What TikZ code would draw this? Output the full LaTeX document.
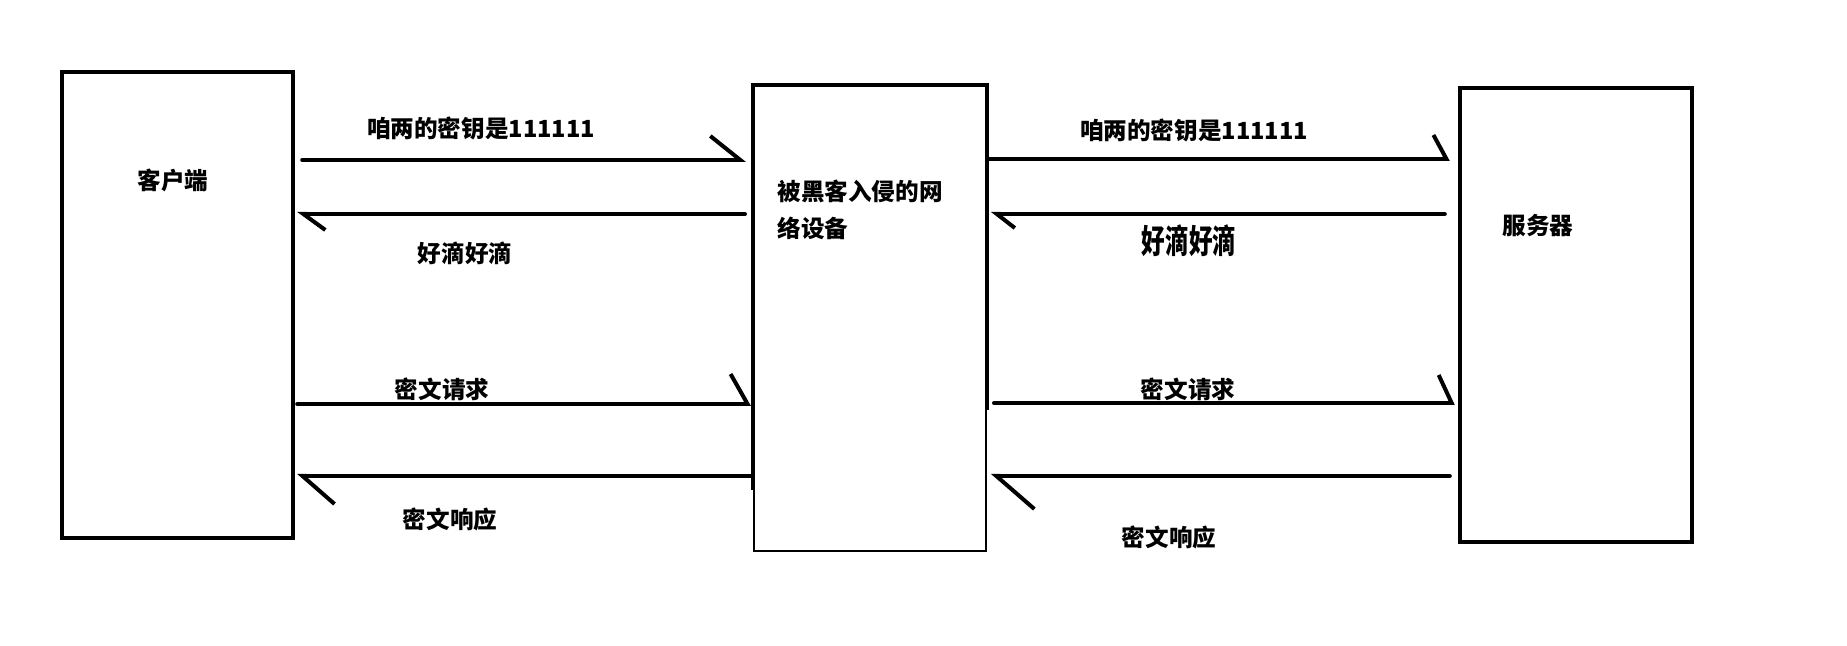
\documentclass[tikz,border=0pt]{standalone}
\usepackage{fontspec}
\usepackage{tikz}
\usetikzlibrary{arrows.meta}
\newfontfamily\cjk{Noto Sans CJK SC}

\begin{document}
\begin{tikzpicture}[
      x=0.5pt, y=-0.5pt,
      box/.style={draw, line width=#1, minimum width=116pt, minimum height=233pt, inner sep=0pt},
      txt/.style={inner sep=0pt, font=\cjk\bfseries\fontsize{11.8pt}{18.3pt}\selectfont},
      msg/.style={line width=2pt, line cap=round},
      barb/.style 2 args={-{Straight Barb[harpoon, length=#1, width=#2]}}
    ]
      \useasboundingbox (0,0) rectangle (1847,646);

      \node[box=2.2pt, minimum width=115.5pt] (client) at (177.5,305) {};
      \node[box=1pt, minimum height=232.5pt] (hacker) at (870,318.5) {};
      \node[box=2.2pt, minimum height=227pt] (server) at (1576,315) {};
      \draw[line width=2.2pt] (hacker.west |- 0,490) |- (hacker.north) -| (hacker.east |- 0,410);

      \node[txt] (clientlbl) at (173,180) {客户端};
      \node[txt, align=left, anchor=north west] (hackerlbl) at (777,180) {被黑客入侵的网\\络设备};
      \node[txt] (serverlbl) at (1538,226) {服务器};

      \node[txt] (keyL) at (481,128) {咱两的密钥是111111};
      \node[txt] (okL) at (465,253) {好滴好滴};
      \node[txt] (reqL) at (442,389) {密文请求};
      \node[txt] (respL) at (450,519) {密文响应};
      \node[txt] (keyR) at (1194,130) {咱两的密钥是111111};
      \node[txt] (okR) at (1189,241) {\scalebox{1}[1.4]{好滴好滴}};
      \node[txt] (reqR) at (1188,389) {密文请求};
      \node[txt] (respR) at (1169,537) {密文响应};

      \draw[msg, barb={15pt}{24pt}, shorten <=3.5pt, shorten >=3.5pt] (client.east |- 0,160) -- (hacker.west |- 0,160);
      \draw[msg, barb={11pt}{16pt}, shorten <=4pt, shorten >=1pt] (hacker.west |- 0,214) -- (client.east |- 0,214);
      \draw[msg, barb={6.5pt}{24pt}, shorten <=0.5pt, shorten >=4pt] (hacker.east |- 0,159) -- (server.west |- 0,159);
      \draw[msg, barb={9pt}{14pt}, shorten <=6.5pt, shorten >=2pt] (server.west |- 0,214) -- (hacker.east |- 0,214);

      \draw[msg, barb={8.5pt}{30pt}, shorten <=1pt, shorten >=1pt] (client.east |- 0,404) -- (hacker.west |- 0,404);
      \draw[msg, barb={16pt}{28pt}, shorten <=1pt, shorten >=1pt] (hacker.west |- 0,476) -- (client.east |- 0,476);
      \draw[msg, barb={6.5pt}{28pt}, shorten <=3.5pt, shorten >=1.5pt] (hacker.east |- 0,403) -- (server.west |- 0,403);
      \draw[msg, barb={19pt}{33pt}, shorten <=4pt, shorten >=2pt] (server.west |- 0,476) -- (hacker.east |- 0,476);
    \end{tikzpicture}
\end{document}
